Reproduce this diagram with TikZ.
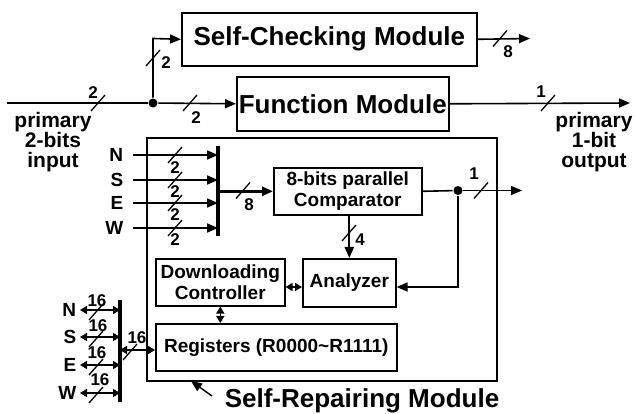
\documentclass[tikz,border=0pt]{standalone}
\usepackage{fontspec}
\setmainfont{Liberation Sans}
\usetikzlibrary{arrows.meta,positioning}

% short bus slash across a line
\newcommand\bussl[1]{\draw[line width=1.3pt] ([shift={(-7pt,-8pt)}]#1) -- ([shift={(7pt,8pt)}]#1);}

\begin{document}
\begin{tikzpicture}[x=1pt,y=-1pt,line width=1.6pt,
  >={Triangle[length=11pt,width=9pt]},
  dbl/.style={{Triangle[length=7pt,width=8pt]}-{Triangle[length=7pt,width=8pt]}},
  blk/.style={draw,anchor=north west,inner sep=0pt,align=center},
  big/.style={font=\fontsize{26}{28}\selectfont\bfseries},
  sml/.style={font=\fontsize{19}{21}\selectfont\bfseries},
  num/.style={font=\fontsize{17}{18}\selectfont\bfseries,inner sep=0pt},
  side/.style={font=\fontsize{21}{20}\selectfont\bfseries,align=center},
  bar/.style={line width=3.5pt},
  dot/.style={circle,fill,inner sep=0pt,minimum size=9pt}]
\useasboundingbox (0,0) rectangle (635,414);

% upper modules
\node[blk,big,minimum width=295pt,minimum height=53pt] (sc) at (181,12) {Self-Checking Module};
\node[blk,big,minimum width=212pt,minimum height=54pt] (fm) at (236,76) {Function Module};

\coordinate (pin) at (7,103);
\node[dot] (split) at (153,103) {};
\coordinate (scup) at (153,38.5);
\coordinate (scout) at (530,38.5);
\coordinate (fout) at (630,103);
\draw (pin) -- (split);
\draw[->] (split) -- (scup) -- (sc.west);
\draw[->] (split) -- (fm.west);
\draw[->] (sc.east) -- (scout);
\draw[->] (fm.east) -- (fout);
\bussl{98,103}
\node[num] (l2a) at (93,93) {2};
\bussl{153,58}
\node[num] (l2b) at (166,63) {2};
\bussl{190,103}
\node[num] (l2c) at (196,118) {2};
\bussl{500,38.5}
\node[num] (l8a) at (508,52) {8};
\bussl{548,103}
\node[num] (l1a) at (541,92) {1};

\node[side] (pinlbl) at (53,142) {primary\\2-bits\\input};
\node[side] (poutlbl) at (594,142) {primary\\1-bit\\output};

% self-repairing module
\node[blk,minimum width=350pt,minimum height=243pt] (srm) at (146,137) {};
\node[blk,sml,minimum width=148pt,minimum height=47pt] (cmp) at (273,167) {8-bits parallel\\Comparator};
\node[blk,sml,minimum width=93pt,minimum height=48pt] (ana) at (302,258) {Analyzer};
\node[blk,sml,minimum width=129pt,minimum height=47pt] (dc) at (155,258) {Downloading\\Controller};
\node[blk,sml,minimum width=241pt,minimum height=47pt] (reg) at (155,323) {Registers (R0000\textasciitilde R1111)};

\coordinate (nbt) at (218,146);
\coordinate (nbb) at (218,236);
\draw[bar] (nbt) -- (nbb);
\foreach \d/\y/\ly in {N/155/168, S/180/192, E/203/215, W/228/240} {
  \node[sml,anchor=east,inner sep=0pt] (in\d) at (124,\y) {\d};
  \draw[->] ([xshift=9pt]in\d.east) -- (in\d -| nbt);
  \bussl{175,\y}
  \node[num] (n\d) at (175,\ly) {2};
}
\draw[->,line width=3pt] (nbt |- cmp.west) -- (cmp.west);
\bussl{243,190.5}
\node[num] (l8b) at (249,205) {8};

\node[dot] (j) at (458,190.5) {};
\coordinate (rout) at (522,190.5);
\coordinate (fb) at (458,287);
\draw (cmp.east) -- (j);
\draw[->] (j) -- (rout);
\bussl{481,190.5}
\node[num] (l1b) at (474,174) {1};
\draw[->] (j) -- (fb) -- (fb -| ana.east);

\draw[->,line width=2.2pt] (ana.north |- cmp.south) -- (ana.north);
\bussl{349,233}
\node[num] (l4) at (360,240) {4};

\draw[dbl] (dc.east |- fb) -- (ana.west |- fb);
\draw[dbl] (dc.south) -- (dc.south |- reg.north);

% neighbour links
\coordinate (wbt) at (120,300);
\coordinate (wbb) at (120,402);
\draw[bar] (wbt) -- (wbb);
\foreach \d/\y/\lx/\ly in {N/310/97/301, S/337/98/326, E/365/97/353, W/393/100/380} {
  \node[sml,anchor=east,inner sep=0pt] (io\d) at (77,\y) {\d};
  \draw[dbl] ([xshift=3pt]io\d.east) -- (io\d -| wbt);
  \bussl{96,{\y+2}}
  \node[num] (m\d) at (\lx,\ly) {16};
}
\coordinate (rin) at (120,350);
\draw[dbl] (rin) -- (rin -| reg.west);
\bussl{130,352}
\node[num] (l16) at (137,338) {16};

\coordinate (ptail) at (212,396);
\coordinate (phead) at (191,381);
\draw[->,line width=1.4pt] (ptail) -- (phead);
\node[big] (srmlbl) at (362,401) {Self-Repairing Module};
\end{tikzpicture}
\end{document}
